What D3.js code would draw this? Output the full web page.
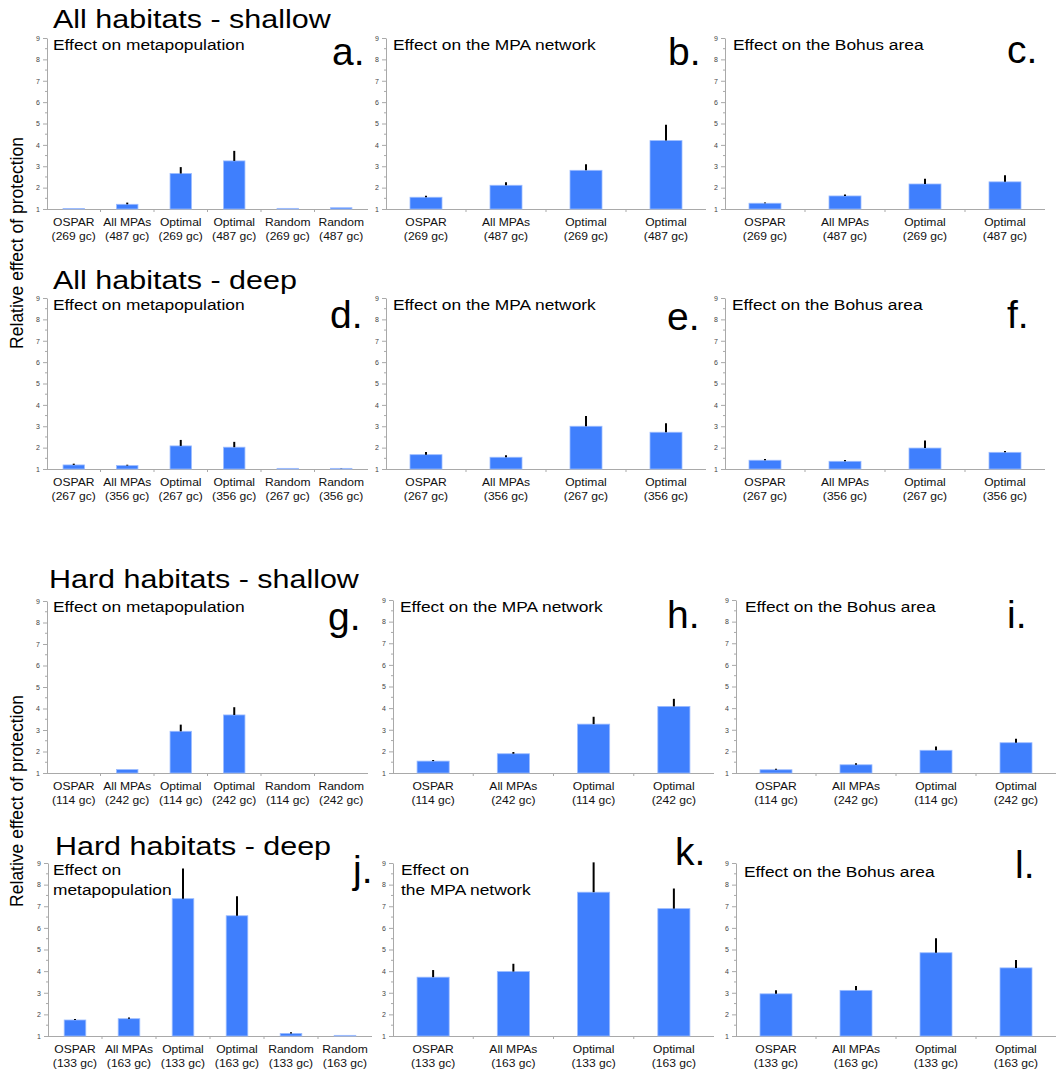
<!DOCTYPE html>
<html>
<head>
<meta charset="utf-8">
<script src="https://cdn.jsdelivr.net/npm/d3@7"></script>
<style>
  body { margin: 0; background: #fff; }
  svg { display: block; }
  text { font-family: "Liberation Sans", Arial, Helvetica, sans-serif; }
</style>
</head>
<body>
<svg id="chart" width="1056" height="1075"></svg>
<script>
// ---- categories and tick labels ----
const methodsSix  = ["OSPAR", "All MPAs", "Optimal", "Optimal", "Random", "Random"];
const methodsFour = ["OSPAR", "All MPAs", "Optimal", "Optimal"];
const gcAllShallow  = ["269 gc", "487 gc", "269 gc", "487 gc", "269 gc", "487 gc"];
const gcAllDeep     = ["267 gc", "356 gc", "267 gc", "356 gc", "267 gc", "356 gc"];
const gcHardShallow = ["114 gc", "242 gc", "114 gc", "242 gc", "114 gc", "242 gc"];
const gcHardDeep    = ["133 gc", "163 gc", "133 gc", "163 gc", "133 gc", "163 gc"];
const yTicks = [1, 2, 3, 4, 5, 6, 7, 8, 9];

// ---- relative effect of protection (mean) and upper error ----
const metaAllShallow     = [1.02, 1.22, 2.66, 3.25, 1.03, 1.06];
const metaAllShallowErr  = [0, 0.08, 0.30, 0.47, 0, 0];
const netAllShallow      = [1.55, 2.11, 2.81, 4.20];
const netAllShallowErr   = [0.07, 0.14, 0.28, 0.74];
const bohusAllShallow    = [1.27, 1.61, 2.17, 2.27];
const bohusAllShallowErr = [0.03, 0.07, 0.25, 0.31];

const metaAllDeep        = [1.19, 1.16, 2.08, 2.02, 1.03, 1.03];
const metaAllDeepErr     = [0.06, 0.04, 0.28, 0.25, 0, 0.01];
const netAllDeep         = [1.67, 1.55, 3.00, 2.72];
const netAllDeepErr      = [0.13, 0.09, 0.48, 0.42];
const bohusAllDeep       = [1.41, 1.36, 1.98, 1.78];
const bohusAllDeepErr    = [0.06, 0.06, 0.35, 0.06];

const metaHardShallow     = [1.00, 1.16, 2.94, 3.70, 1.00, 1.00];
const metaHardShallowErr  = [0, 0, 0.31, 0.36, 0, 0];
const netHardShallow      = [1.55, 1.89, 3.26, 4.08];
const netHardShallowErr   = [0.05, 0.08, 0.34, 0.35];
const bohusHardShallow    = [1.15, 1.38, 2.05, 2.40];
const bohusHardShallowErr = [0.05, 0.07, 0.18, 0.18];

const metaHardDeep       = [1.74, 1.80, 7.35, 6.56, 1.12, 1.03];
const metaHardDeepErr    = [0.05, 0.06, 1.39, 0.90, 0.05, 0];
const netHardDeep        = [3.72, 3.98, 7.65, 6.89];
const netHardDeepErr     = [0.33, 0.36, 1.38, 0.93];
const bohusHardDeep      = [2.95, 3.11, 4.85, 4.15];
const bohusHardDeepErr   = [0.17, 0.20, 0.67, 0.36];

// ---- text ----
const groupTitles = ["All habitats - shallow", "All habitats - deep", "Hard habitats - shallow", "Hard habitats - deep"];
const yTitle = "Relative effect of protection";

// ---- panels: data + frame ----
const panels = [
  { letter: "a.", cats: methodsSix,  gc: gcAllShallow, vals: metaAllShallow,  errs: metaAllShallowErr,  sub: ["Effect on metapopulation"],
    frame: { x0: 47,  x1: 368,  top: 38,  base: 209 }, subPos: [53, 50],  letterPos: [332, 65] },
  { letter: "b.", cats: methodsFour, gc: gcAllShallow, vals: netAllShallow,   errs: netAllShallowErr,   sub: ["Effect on the MPA network"],
    frame: { x0: 386, x1: 706,  top: 38,  base: 209 }, subPos: [393, 50], letterPos: [668, 65] },
  { letter: "c.", cats: methodsFour, gc: gcAllShallow, vals: bohusAllShallow, errs: bohusAllShallowErr, sub: ["Effect on the Bohus area"],
    frame: { x0: 725, x1: 1045, top: 38,  base: 209 }, subPos: [733, 50], letterPos: [1007, 63] },

  { letter: "d.", cats: methodsSix,  gc: gcAllDeep, vals: metaAllDeep,  errs: metaAllDeepErr,  sub: ["Effect on metapopulation"],
    frame: { x0: 47,  x1: 368,  top: 298, base: 469 }, subPos: [53, 310],  letterPos: [330, 328] },
  { letter: "e.", cats: methodsFour, gc: gcAllDeep, vals: netAllDeep,   errs: netAllDeepErr,   sub: ["Effect on the MPA network"],
    frame: { x0: 386, x1: 706,  top: 298, base: 469 }, subPos: [393, 310], letterPos: [667, 330] },
  { letter: "f.", cats: methodsFour, gc: gcAllDeep, vals: bohusAllDeep, errs: bohusAllDeepErr, sub: ["Effect on the Bohus area"],
    frame: { x0: 725, x1: 1045, top: 298, base: 469 }, subPos: [732, 310], letterPos: [1007, 328] },

  { letter: "g.", cats: methodsSix,  gc: gcHardShallow, vals: metaHardShallow,  errs: metaHardShallowErr,  sub: ["Effect on metapopulation"],
    frame: { x0: 47,  x1: 368,  top: 601, base: 773 }, subPos: [53, 612],  letterPos: [328, 630] },
  { letter: "h.", cats: methodsFour, gc: gcHardShallow, vals: netHardShallow,   errs: netHardShallowErr,   sub: ["Effect on the MPA network"],
    frame: { x0: 393, x1: 714,  top: 600, base: 773 }, subPos: [400, 612], letterPos: [667, 628] },
  { letter: "i.", cats: methodsFour, gc: gcHardShallow, vals: bohusHardShallow, errs: bohusHardShallowErr, sub: ["Effect on the Bohus area"],
    frame: { x0: 736, x1: 1056, top: 600, base: 773 }, subPos: [745, 612], letterPos: [1007, 628] },

  { letter: "j.", cats: methodsSix,  gc: gcHardDeep, vals: metaHardDeep,  errs: metaHardDeepErr,  sub: ["Effect on", "metapopulation"],
    frame: { x0: 48,  x1: 372,  top: 863, base: 1036 }, subPos: [53, 875],  letterPos: [353, 883] },
  { letter: "k.", cats: methodsFour, gc: gcHardDeep, vals: netHardDeep,   errs: netHardDeepErr,   sub: ["Effect on", "the MPA network"],
    frame: { x0: 393, x1: 714,  top: 863, base: 1036 }, subPos: [401, 875], letterPos: [675, 865] },
  { letter: "l.", cats: methodsFour, gc: gcHardDeep, vals: bohusHardDeep, errs: bohusHardDeepErr, sub: ["Effect on the Bohus area"],
    frame: { x0: 736, x1: 1056, top: 863, base: 1036 }, subPos: [744, 877], letterPos: [1015, 878] }
];

const titlePos = [[53, 28], [53, 289], [49, 588], [55, 855]];

const svg = d3.select("#chart");
svg.append("rect").attr("width", 1056).attr("height", 1075).attr("fill", "#fff");

// text drawn slightly wider than the font's natural width
function wideText(parent, x, y, str, size, sx, color) {
  return parent.append("text")
    .attr("transform", `translate(${x},${y}) scale(${sx},1)`)
    .attr("font-size", size)
    .attr("fill", color || "#000")
    .text(str);
}

const BAR = "#3f7ffd";
const AXIS = "#a9a9a9";

function drawPanel(p) {
  const f = p.frame;
  const g = svg.append("g");
  const n = p.vals.length;

  const x = d3.scaleBand().domain(d3.range(n)).range([f.x0, f.x1])
    .paddingInner(0.6).paddingOuter(0.3);
  const y = d3.scaleLinear().domain([1, 9]).range([f.base, f.top]);

  // y axis with integer ticks
  const ya = g.append("g").attr("transform", `translate(${f.x0},0)`)
    .call(d3.axisLeft(y).tickValues(yTicks).tickFormat(d3.format("d"))
      .tickSize(4).tickSizeOuter(0).tickPadding(3));
  ya.select(".domain").attr("stroke", AXIS);
  ya.selectAll(".tick line").attr("stroke", AXIS);
  ya.selectAll(".tick text").attr("font-size", 7).attr("fill", "#444")
    .attr("font-family", "'Liberation Sans', Arial, sans-serif");

  // half-unit minor ticks
  g.selectAll("line.minor").data(d3.range(1.5, 9, 1)).join("line")
    .attr("x1", f.x0 - 2).attr("x2", f.x0)
    .attr("y1", d => y(d)).attr("y2", d => y(d))
    .attr("stroke", AXIS);

  // x axis baseline with boundary ticks between categories
  g.append("line").attr("x1", f.x0).attr("x2", f.x1)
    .attr("y1", f.base + 0.5).attr("y2", f.base + 0.5).attr("stroke", AXIS);
  const step = x.step();
  g.selectAll("line.bound").data(d3.range(1, n)).join("line")
    .attr("x1", i => f.x0 + i * step).attr("x2", i => f.x0 + i * step)
    .attr("y1", f.base).attr("y2", f.base + 3).attr("stroke", AXIS);

  // category labels (two lines)
  d3.range(n).forEach(i => {
    const cx = x(i) + x.bandwidth() / 2;
    const t = g.append("text")
      .attr("transform", `translate(${cx},0) scale(1.05,1)`)
      .attr("text-anchor", "middle").attr("font-size", 11.5).attr("fill", "#111");
    t.append("tspan").attr("x", 0).attr("y", f.base + 17).text(p.cats[i]);
    t.append("tspan").attr("x", 0).attr("y", f.base + 31).text(`(${p.gc[i]})`);
  });

  // bars
  g.selectAll("rect.bar").data(p.vals).join("rect")
    .attr("x", (d, i) => x(i)).attr("width", x.bandwidth())
    .attr("y", d => y(d)).attr("height", d => y(1) - y(d))
    .attr("fill", BAR).attr("stroke", "#9cbcff").attr("stroke-width", 0.8);

  // upper error bars
  g.selectAll("line.err").data(p.vals).join("line")
    .attr("x1", (d, i) => x(i) + x.bandwidth() / 2)
    .attr("x2", (d, i) => x(i) + x.bandwidth() / 2)
    .attr("y1", d => y(d))
    .attr("y2", (d, i) => y(d + p.errs[i]))
    .attr("stroke", "#000").attr("stroke-width", (d, i) => p.errs[i] > 0 ? 2 : 0);

  // subtitle
  p.sub.forEach((s, k) => wideText(g, p.subPos[0], p.subPos[1] + k * 20, s, 15.5, 1.12));

  // panel letter
  g.append("text").attr("x", p.letterPos[0]).attr("y", p.letterPos[1])
    .attr("font-family", "Lato, 'Open Sans', sans-serif")
    .attr("font-size", 39).attr("fill", "#000").text(p.letter);
}

panels.forEach(drawPanel);

// group titles
groupTitles.forEach((t, i) => wideText(svg, titlePos[i][0], titlePos[i][1], t, 26.5, 1.15));

// shared y-axis titles
[243, 801].forEach(cy => {
  svg.append("text")
    .attr("transform", `translate(23,${cy}) rotate(-90)`)
    .attr("text-anchor", "middle")
    .attr("font-size", 17.5).attr("fill", "#000")
    .text(yTitle);
});
</script>
</body>
</html>
